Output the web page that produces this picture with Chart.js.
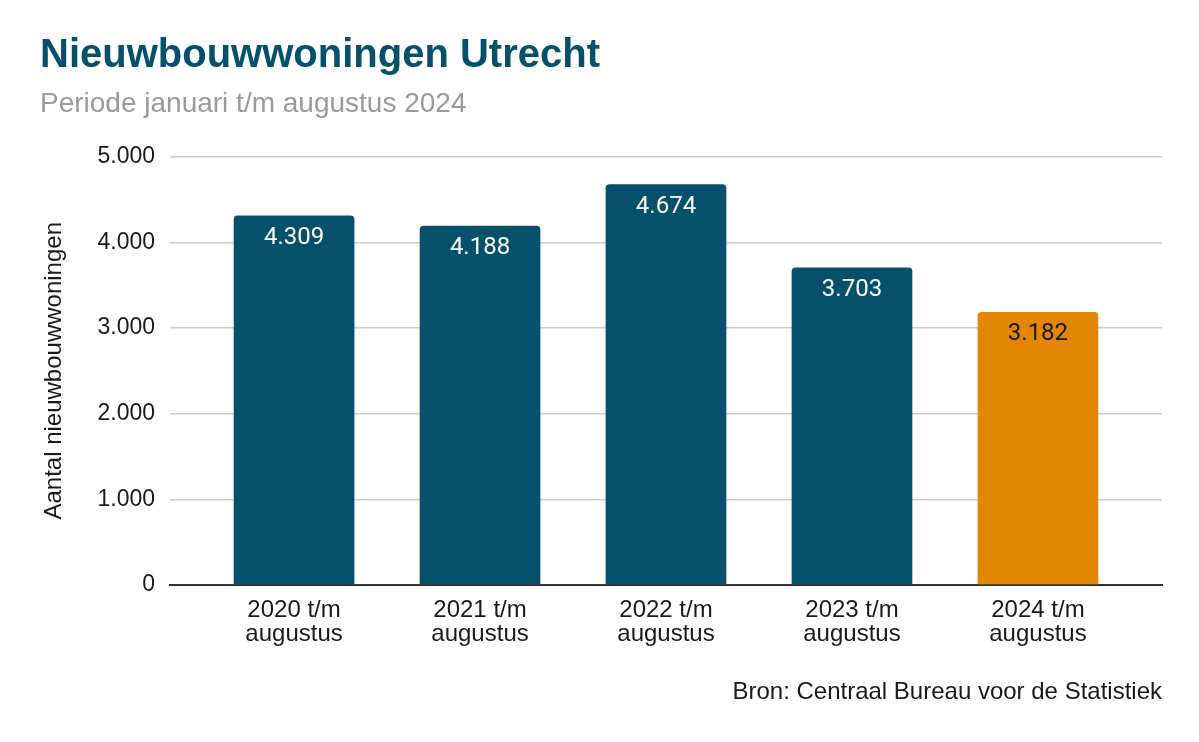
<!DOCTYPE html>
<html lang="nl">
<head>
<meta charset="UTF-8">
<title>Nieuwbouwwoningen Utrecht</title>
<script src="https://cdn.jsdelivr.net/npm/chart.js"></script>
<style>
  body { margin: 0; background: #fff; }
  #wrap { width: 1199px; height: 742px; position: relative; }
</style>
</head>
<body>
<div id="wrap"><canvas id="chart"></canvas></div>
<script>
// data
const periods = [["2020 t/m", "augustus"], ["2021 t/m", "augustus"], ["2022 t/m", "augustus"], ["2023 t/m", "augustus"], ["2024 t/m", "augustus"]];
const woningen = [4309, 4188, 4674, 3703, 3182];
const barColors = ["#05506a", "#05506a", "#05506a", "#05506a", "#e38600"];
const labelColors = ["#ffffff", "#ffffff", "#ffffff", "#ffffff", "#1a1a1a"];
const yTicks = [0, 1000, 2000, 3000, 4000, 5000];

const fmt = v => String(v).replace(/\B(?=(\d{3})+(?!\d))/g, ".");
const axisFont = { family: "'Liberation Sans', Arial", size: 24 };

// value labels inside the top of each bar + the source line
const extras = {
  id: "extras",
  afterDatasetsDraw(chart) {
    const ctx = chart.ctx;
    const meta = chart.getDatasetMeta(0);
    ctx.save();
    ctx.font = "24px Roboto";
    ctx.textAlign = "center";
    ctx.textBaseline = "middle";
    meta.data.forEach((bar, i) => {
      ctx.fillStyle = labelColors[i];
      ctx.fillText(fmt(woningen[i]), bar.x, bar.y + 22);
    });
    ctx.font = "24px 'Liberation Sans', Arial";
    ctx.fillStyle = "#1a1a1a";
    ctx.textAlign = "right";
    ctx.fillText("Bron: Centraal Bureau voor de Statistiek", chart.chartArea.right, 692);
    ctx.restore();
  }
};

new Chart(document.getElementById("chart"), {
  type: "bar",
  data: {
    datasets: [{
      data: woningen.map((v, i) => ({ x: i, y: v })),
      backgroundColor: barColors,
      barThickness: 120,
      borderRadius: { topLeft: 4, topRight: 4 },
      borderSkipped: "bottom"
    }]
  },
  options: {
    responsive: true,
    maintainAspectRatio: false,
    animation: false,
    layout: { padding: { left: 40, right: 37, top: 32, bottom: 83 } },
    plugins: {
      legend: { display: false },
      tooltip: { enabled: false },
      title: {
        display: true,
        text: "Nieuwbouwwoningen Utrecht",
        align: "start",
        color: "#05506a",
        font: { family: "'Liberation Sans', Arial", size: 40, weight: "bold" },
        padding: { top: 0, bottom: 7 }
      },
      subtitle: {
        display: true,
        text: "Periode januari t/m augustus 2024",
        align: "start",
        color: "#9a9a9a",
        font: { family: "'Liberation Sans', Arial", size: 28 },
        padding: { top: 0, bottom: 36 }
      }
    },
    scales: {
      x: {
        type: "linear",
        offset: false,
        min: -0.667,
        max: 4.667,
        afterBuildTicks: s => { s.ticks = periods.map((p, i) => ({ value: i })); },
        ticks: {
          callback: v => periods[v],
          color: "#1a1a1a",
          font: { ...axisFont, lineHeight: 1.0 },
          padding: 13,
          maxRotation: 0,
          autoSkip: false
        },
        grid: { display: false, drawTicks: false, tickLength: 0 },
        border: { color: "#333333", width: 2 }
      },
      y: {
        min: 0,
        max: 5000,
        afterBuildTicks: s => { s.ticks = yTicks.map(v => ({ value: v })); },
        afterFit: s => { s.width = 130; },
        ticks: {
          callback: v => fmt(v),
          color: "#1a1a1a",
          font: { ...axisFont, size: 23 },
          padding: 15
        },
        grid: {
          drawTicks: false,
          color: c => c.tick && c.tick.value === 0 ? "#333333" : "#cccccc",
          lineWidth: c => c.tick && c.tick.value === 0 ? 2 : 1.5
        },
        border: { display: false },
        title: {
          display: true,
          text: "Aantal nieuwbouwwoningen",
          color: "#1a1a1a",
          font: axisFont,
          padding: { top: 0, bottom: 0 }
        }
      }
    }
  },
  plugins: [extras]
});
</script>
</body>
</html>
